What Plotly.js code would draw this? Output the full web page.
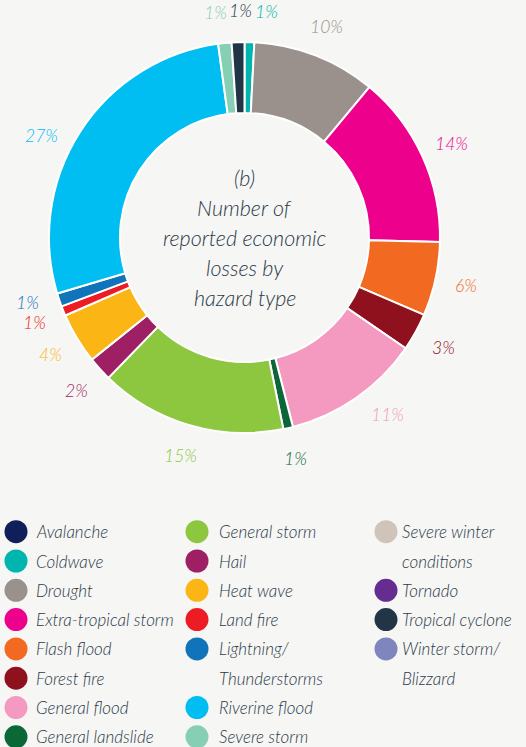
<!DOCTYPE html>
<html>
<head>
<meta charset="utf-8">
<script src="https://cdn.plot.ly/plotly-3.0.1.min.js"></script>
<style>
  html, body { margin: 0; padding: 0; background: #f6f6f4; }
  #chart { width: 526px; height: 747px; }
</style>
</head>
<body>
<div id="chart"></div>
<script>
// ---- data (percent of reported economic losses) ----
const categories = [
  "Avalanche", "Coldwave", "Drought", "Extra-tropical storm", "Flash flood",
  "Forest fire", "General flood", "General landslide", "General storm", "Hail",
  "Heat wave", "Land fire", "Lightning/<br>Thunderstorms", "Riverine flood", "Severe storm",
  "Severe winter<br>conditions", "Tornado", "Tropical cyclone", "Winter storm/<br>Blizzard"
];
const values = [
  0, 0.8, 10.2, 14.3, 6.1,
  3.1, 11.4, 0.8, 15.4, 2.0,
  4.2, 0.8, 1.1, 27.4, 1.1,
  0, 0, 1.05, 0
];
const colors = [
  "#0f1f5a", "#00b5ad", "#9a918c", "#ec008c", "#f26922",
  "#8f111e", "#f49ac1", "#0c6738", "#8dc63f", "#9e1f63",
  "#fbb615", "#ed1c24", "#1173b9", "#00bdf2", "#86cfb5",
  "#d0c3ba", "#662d91", "#213547", "#7f86bd"
];
const centerTitle = ["(b)", "Number of", "reported economic", "losses by", "hazard type"];

// ---- layout constants (pixels) ----
const W = 526, H = 747;
const cx = 244.5, cy = 237.5, R = 195.5, holeFrac = 0.637;
const labelRadius = 227;
// small angular nudges (degrees) for outside labels, keyed by category index
const labelNudge = {1: 4.2, 6: -4, 12: 2, 13: -6, 14: -1.6, 17: 0.8};
const bg = "#f6f6f4";
const textColor = "#2b3a4a";
const fontFamily = "Lato, 'Open Sans', sans-serif";
const fontWeight = 300;

// ---- pie trace (non-zero categories) ----
const idx = values.map((v, i) => i).filter(i => values[i] > 0);
const pie = {
  type: "pie",
  labels: idx.map(i => categories[i].replace("<br>", " ")),
  values: idx.map(i => values[i]),
  marker: { colors: idx.map(i => colors[i]), line: { color: "#ffffff", width: 2 } },
  sort: false,
  direction: "clockwise",
  rotation: 0,
  hole: holeFrac,
  textinfo: "none",
  hoverinfo: "label+percent",
  showlegend: false,
  domain: { x: [(cx - R) / W, (cx + R) / W], y: [1 - (cy + R) / H, 1 - (cy - R) / H] }
};

// ---- outside percentage labels ----
const total = values.reduce((a, b) => a + b, 0);
const annotations = [];
let cum = 0;
idx.forEach(i => {
  const v = values[i];
  let mid = (cum + v / 2) / total * 360 + (labelNudge[i] || 0);
  cum += v;
  const t = mid * Math.PI / 180;
  annotations.push({
    xref: "x", yref: "y",
    x: cx + labelRadius * Math.sin(t),
    y: cy - labelRadius * Math.cos(t),
    text: Math.round(v / total * 100) + "%",
    showarrow: false, xanchor: "center", yanchor: "middle",
    font: { family: fontFamily, size: 17.5, color: colors[i], style: "italic", weight: fontWeight }
  });
});

// ---- centre title ----
const titleStep = 30;
centerTitle.forEach((line, k) => {
  annotations.push({
    xref: "x", yref: "y",
    x: cx, y: cy + (k - (centerTitle.length - 1) / 2) * titleStep,
    text: line, showarrow: false, xanchor: "center", yanchor: "middle",
    font: { family: fontFamily, size: 21.5, color: textColor, style: "italic", weight: fontWeight }
  });
});

// ---- custom legend: columns filled top-to-bottom, 8 rows each ----
const rowsPerCol = 8;
const colCircleX = [16, 197, 386];
const colTextX = [34, 217, 400];
const rowY0 = 531.7, rowStep = 29.3;
const legX = [], legY = [], legC = [];
let col = 0, row = 0;
categories.forEach((name, i) => {
  const lines = name.split("<br>");
  if (row + lines.length > rowsPerCol) { col += 1; row = 0; }
  legX.push(colCircleX[col]);
  legY.push(rowY0 + row * rowStep);
  legC.push(colors[i]);
  lines.forEach((ln, k) => {
    annotations.push({
      xref: "x", yref: "y",
      x: colTextX[col], y: rowY0 + (row + k) * rowStep,
      text: ln, showarrow: false, xanchor: "left", yanchor: "middle",
      font: { family: fontFamily, size: 17, color: textColor, style: "italic", weight: fontWeight }
    });
  });
  row += lines.length;
});
const legendMarkers = {
  type: "scatter", mode: "markers",
  x: legX, y: legY,
  marker: { size: 23, color: legC, line: { width: 0 } },
  hoverinfo: "skip", showlegend: false, cliponaxis: false
};

const layout = {
  width: W, height: H,
  margin: { l: 0, r: 0, t: 0, b: 0, pad: 0 },
  paper_bgcolor: bg, plot_bgcolor: bg,
  showlegend: false,
  xaxis: { range: [0, W], visible: false, fixedrange: true, domain: [0, 1] },
  yaxis: { range: [H, 0], visible: false, fixedrange: true, domain: [0, 1] },
  annotations: annotations
};

Plotly.newPlot("chart", [pie, legendMarkers], layout, { displayModeBar: false, staticPlot: true });
</script>
</body>
</html>
